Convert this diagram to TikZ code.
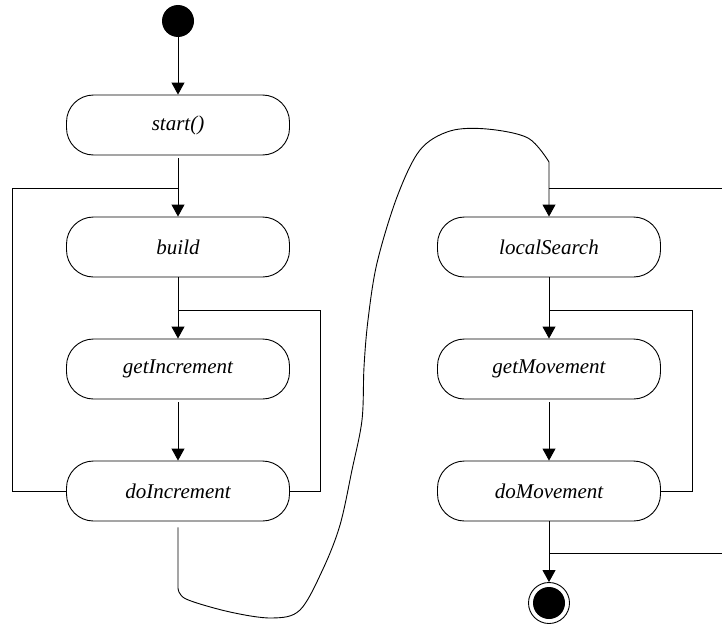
\documentclass[tikz,border=0pt]{standalone}
\usepackage{fontspec}
\setmainfont{Liberation Serif}
\usepackage{tikz}
\usetikzlibrary{arrows.meta}
\usetikzlibrary{positioning}

\begin{document}
\begin{tikzpicture}[x=1pt,y=1pt,line width=0.9pt,
    >={Triangle[length=12pt,width=13pt]},node distance=122pt,
    act node/.style={rectangle,draw,rounded corners=27pt,minimum width=223pt,
                     minimum height=60pt,font=\itshape\fontsize{21}{25}\selectfont},
    init node/.style={circle,fill=black,minimum size=32pt,inner sep=0pt}]
  \useasboundingbox (0,0) rectangle (722,-626);

  \node[act node] (start) at (178,-125) {start()};
  \node[init node] (init) [above of=start,node distance=104pt] {};
  \node[act node] (build) [below of=start] {build};
  \node[act node] (getInc) [below of=build] {getIncrement};
  \node[act node] (doInc) [below of=getInc] {doIncrement};

  \node[act node] (local) [right of=build,node distance=371pt] {localSearch};
  \node[act node] (getMov) [below of=local] {getMovement};
  \node[act node] (doMov) [below of=getMov] {doMovement};
  \node[circle,draw,minimum size=41pt,inner sep=0pt] (final) at (549,-603) {};
  \node[init node] (finalin) at (final.center) {};

  % junctions of the loops
  \coordinate (j1) at (178,-188);
  \coordinate (j2) at (178,-310);
  \coordinate (j3) at (549,-188);
  \coordinate (j4) at (549,-310);
  \coordinate (j5) at (549,-553);
  \coordinate (l1) at (12,-188);
  \coordinate (r1) at (320,-310);
  \coordinate (r2) at (692,-310);
  \coordinate (out1) at (722,-188);
  \coordinate (out2) at (722,-553);
  \coordinate (b1) at (178,-588);
  \coordinate (top) at (549,-162);

  \path[->]
    (init) edge (start)
    (start) edge[shorten <=3pt] (build)
    (build) edge (getInc)
    (getInc) edge[shorten <=3pt] (doInc)
    (local) edge (getMov)
    (getMov) edge[shorten <=3pt] (doMov)
    (doMov) edge (final);

  \draw (doInc.west) -| (l1) -- (j1);
  \draw (doInc.east) -| (r1) -- (j2);
  \draw (j3) -- (out1);
  \draw (doMov.east) -| (r2) -- (j4);
  \draw (j5) -- (out2);

  \draw[->] (doInc.south) ++(0,-6) -- (b1)
    -- plot[smooth,tension=0.55] coordinates {(b1) (186,-599) (230,-612) (272,-618)
       (300,-610) (323,-569) (340,-525) (352,-470) (362,-420) (364,-367)
       (368,-320) (377,-263) (397,-197) (420,-150) (450,-131) (487,-129)
       (528,-138) (top)}
    -- (local.north);
\end{tikzpicture}
\end{document}
